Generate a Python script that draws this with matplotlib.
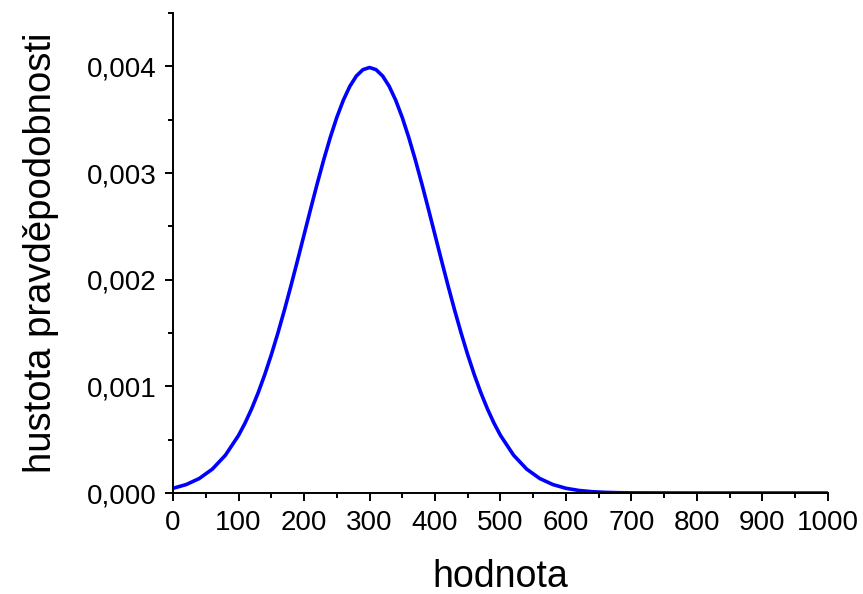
import matplotlib
matplotlib.use("Agg")
import matplotlib.pyplot as plt
from matplotlib.ticker import MultipleLocator, FuncFormatter

plt.rcParams['font.family'] = ['Liberation Sans', 'DejaVu Sans']

# values (hodnota vs. hustota pravděpodobnosti)
x_vals = [0, 20, 40, 60, 80, 100, 110, 120, 130, 140, 150, 160, 170, 180, 190,
          200, 210, 220, 230, 240, 250, 260, 270, 280, 290, 300,
          310, 320, 330, 340, 350, 360, 370, 380, 390, 400, 410, 420, 430, 440,
          450, 460, 470, 480, 490, 500, 520, 540, 560, 580, 600, 620, 640, 660,
          680, 700, 800, 900, 1000]
density = [4.43e-5, 7.92e-5, 1.358e-4, 2.240e-4, 3.548e-4, 5.399e-4, 6.562e-4,
           7.895e-4, 9.405e-4, 1.1092e-3, 1.2952e-3, 1.4973e-3, 1.7137e-3,
           1.9419e-3, 2.1785e-3, 2.4197e-3, 2.6609e-3, 2.8969e-3, 3.1225e-3,
           3.3322e-3, 3.5207e-3, 3.6827e-3, 3.8139e-3, 3.9104e-3, 3.9695e-3,
           3.9894e-3,
           3.9695e-3, 3.9104e-3, 3.8139e-3, 3.6827e-3, 3.5207e-3, 3.3322e-3,
           3.1225e-3, 2.8969e-3, 2.6609e-3, 2.4197e-3, 2.1785e-3, 1.9419e-3,
           1.7137e-3, 1.4973e-3, 1.2952e-3, 1.1092e-3, 9.405e-4, 7.895e-4,
           6.562e-4, 5.399e-4, 3.548e-4, 2.240e-4, 1.358e-4, 7.92e-5, 4.43e-5,
           2.38e-5, 1.23e-5, 6.1e-6, 2.9e-6, 1.3e-6, 0.0, 0.0, 0.0]

x_label = "hodnota"
y_label = "hustota pravděpodobnosti"

fig = plt.figure(figsize=(8.63, 5.94), dpi=100)
ax = fig.add_axes([0.2005, 0.170, 0.7589, 0.808])

ax.plot(x_vals, density, color='#0000ff', linewidth=2.6,
        solid_joinstyle='round', solid_capstyle='butt')

ax.set_xlim(0, 1000)
ax.set_ylim(0, 0.0045)
ax.xaxis.set_major_locator(MultipleLocator(100))
ax.xaxis.set_minor_locator(MultipleLocator(50))
ax.yaxis.set_major_locator(MultipleLocator(0.001))
ax.yaxis.set_minor_locator(MultipleLocator(0.0005))
ax.yaxis.set_major_formatter(FuncFormatter(lambda v, p: f"{v:.3f}".replace('.', ',')))

for s in ['top', 'right']:
    ax.spines[s].set_visible(False)
for s in ['left', 'bottom']:
    ax.spines[s].set_linewidth(1.4)

ax.tick_params(which='major', direction='out', length=6, width=1.4, labelsize=20)
ax.tick_params(axis='x', which='major', pad=6)
ax.tick_params(axis='y', which='major', pad=6)
ax.tick_params(which='minor', direction='out', length=3.5, width=1.4)

ax.set_xlabel(x_label, fontsize=27, labelpad=17)
ax.set_ylabel(y_label, fontsize=27.5, labelpad=20)

fig.savefig("out.png", dpi=100)
